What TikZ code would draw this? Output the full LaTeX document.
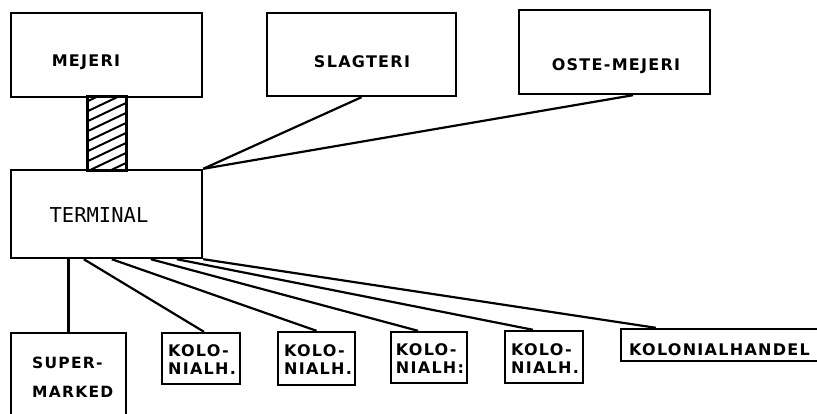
\documentclass[tikz,border=0pt]{standalone}
\usepackage{fontspec}
\usetikzlibrary{calc}
\newfontfamily\lblfont[LetterSpace=8]{DejaVu Sans Bold}
\newfontfamily\termfont{DejaVu Sans Mono}
\tikzset{
  box/.style={draw, line width=2.4pt, inner sep=0pt, rectangle},
  lbl/.style={font=\lblfont\fontsize{16}{18}\selectfont, inner sep=0pt, align=left},
  conn/.style={line width=2.2pt},
}
\begin{document}
\begin{tikzpicture}[x=1pt,y=-1pt]
\useasboundingbox (0,0) rectangle (817,413);
\clip (0,0) rectangle (817,413);
% top row
\node[box, minimum width=191pt, minimum height=84pt] (mejeri) at (106.5,55) {};
\node[lbl] (tmejeri) at (86,62) {MEJERI};
\node[box, minimum width=189pt, minimum height=83pt] (slagteri) at (361.5,54.5) {};
\node[lbl] (tslagteri) at (362,62) {SLAGTERI};
\node[box, minimum width=191pt, minimum height=84pt] (ostemejeri) at (614.5,52) {};
\node[lbl] (tostemejeri) at (616,66) {OSTE-MEJERI};
% terminal
\node[box, minimum width=191pt, minimum height=88pt] (terminal) at (106.5,214) {};
\node[font=\termfont\fontsize{20.5}{24}\selectfont, inner sep=0pt] (tterminal) at (99,215) {TERMINAL};
% hatched link
\node[box, minimum width=38pt, minimum height=73pt] (hatch) at (107,133.5) {};
\begin{scope}
  \clip (hatch.north west) rectangle (hatch.south east);
  \foreach \y in {102,112,...,202} {
    \draw[line width=2pt] (86,\y) -- (128,\y-20);
  }
\end{scope}
\draw[box] (hatch.north west) rectangle (hatch.south east);
% bottom row
\node[box, minimum width=115pt, minimum height=110pt] (supermarked) at (68.5,388) {};
\node[lbl, anchor=west, font=\lblfont\fontsize{15.5}{29}\selectfont] (tsupermarked) at (32,377.5) {SUPER-\\MARKED};
\node[box, minimum width=78pt, minimum height=51pt] (kolo1) at (201,358.5) {};
\node[lbl] (tkolo1) at (202,360) {KOLO-\\NIALH.};
\node[box, minimum width=77pt, minimum height=53pt] (kolo2) at (316.5,358.5) {};
\node[lbl] (tkolo2) at (318,360) {KOLO-\\NIALH.};
\node[box, minimum width=76pt, minimum height=51pt] (kolo3) at (429,357.5) {};
\node[lbl] (tkolo3) at (430,359) {KOLO-\\NIALH:};
\node[box, minimum width=78pt, minimum height=52pt] (kolo4) at (544,357) {};
\node[lbl] (tkolo4) at (545,359) {KOLO-\\NIALH.};
\node[box, minimum width=210pt, minimum height=32pt] (kolonial) at (726,345) {};
\node[lbl, anchor=west] (tkolonial) at (629,350) {KOLONIALHANDEL};
% connectors
\draw[conn] (terminal.north east) -- (slagteri.south);
\draw[conn] (terminal.north east) -- ($(ostemejeri.south)+(18.5,0)$);
\draw[conn] (supermarked.north) -- (supermarked.north |- terminal.south);
\draw[conn] ($(terminal.south west)+(74,0)$) -- ($(kolo1.north)+(3,0)$);
\draw[conn] ($(terminal.south west)+(102,0)$) -- (kolo2.north);
\draw[conn] ($(terminal.south west)+(141,0)$) -- ($(kolo3.north)+(-11,0)$);
\draw[conn] ($(terminal.south west)+(167,0)$) -- ($(kolo4.north)+(-11,0)$);
\draw[conn] (terminal.south east) -- ($(kolonial.north west)+(36,0)$);
\end{tikzpicture}
\end{document}
